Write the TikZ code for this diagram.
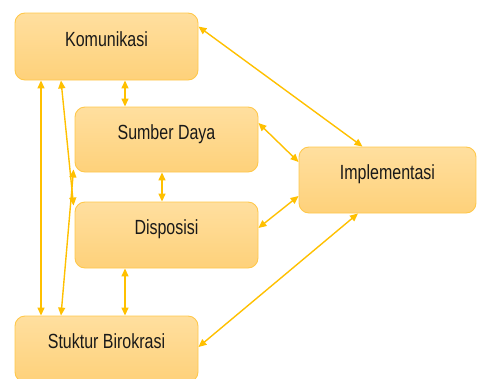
\documentclass[tikz,border=0pt]{standalone}
\usepackage{fontspec}
\setmainfont{Liberation Sans}[FakeStretch=0.78]
\usetikzlibrary{arrows.meta,shadings}
\definecolor{boxtop}{HTML}{FFDF9F}
\definecolor{boxbot}{HTML}{FED17A}
\definecolor{boxline}{HTML}{FFC84A}
\definecolor{linkc}{HTML}{FFC000}
\tikzset{
  box/.style={rectangle, rounded corners=10pt, draw=boxline, line width=0.9pt,
    top color=boxtop, bottom color=boxbot, inner sep=0pt,
    text height=7pt, text depth=8pt, text=black!90,
    font=\fontsize{20.5}{24}\selectfont},
  link/.style={draw=linkc, line width=1.4pt,
    {Triangle[length=8pt,width=7pt]}-{Triangle[length=8pt,width=7pt]}}
}
\begin{document}
\begin{tikzpicture}[x=1pt,y=-1pt]
\useasboundingbox (0,0) rectangle (477,378);
% boxes
\node[box, minimum width=183pt, minimum height=67pt] (kom)  at (106.5,46.5) {Komunikasi};
\node[box, minimum width=183pt, minimum height=65pt] (sd)   at (166.5,139.5) {Sumber Daya};
\node[box, minimum width=183pt, minimum height=66pt] (disp) at (166.5,235) {Disposisi};
\node[box, minimum width=183pt, minimum height=66pt] (stuk) at (106.5,349) {Stuktur Birokrasi};
\node[box, minimum width=177pt, minimum height=66pt] (impl) at (387.5,180) {Implementasi};
% connectors
\draw[link] ([yshift=-14pt]kom.north east) -- ([xshift=-25pt]impl.north);
\draw[link] ([xshift=18.5pt]kom.south) -- ([xshift=-41.5pt]sd.north);
\draw[link] ([yshift=16.5pt]sd.east) -- ([yshift=18pt]impl.west);
\draw[link] ([yshift=7pt]disp.east) -- ([yshift=-16pt]impl.west);
\draw[link] ([yshift=2pt]stuk.east) -- ([xshift=-29.5pt]impl.south);
\draw[link] ([xshift=-4.5pt]sd.south) -- ([xshift=-4.5pt]disp.north);
\draw[link] ([xshift=-41.5pt]disp.south) -- ([xshift=18.5pt]stuk.north);
\draw[link] ([xshift=-65.5pt]kom.south) -- ([xshift=-65.5pt]stuk.north);
\draw[link] ([xshift=-45.5pt]kom.south) -- ([xshift=-1pt,yshift=-4pt]disp.north west);
\draw[link] ([xshift=-45.5pt]stuk.north) -- ([xshift=-1pt,yshift=3pt]sd.south west);
\end{tikzpicture}
\end{document}
